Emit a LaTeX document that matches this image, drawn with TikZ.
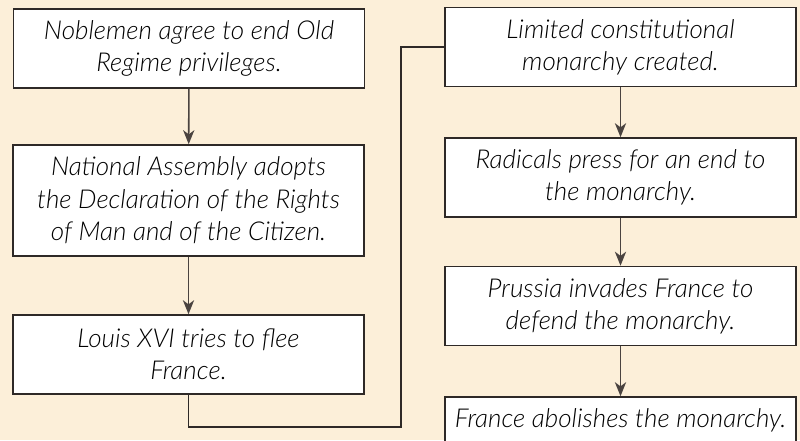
\documentclass[tikz,border=0pt]{standalone}
\usepackage{fontspec}
\setmainfont{Lato}[ItalicFont={Lato Light Italic}]
\usepackage{tikz}
\usetikzlibrary{arrows.meta}
\definecolor{parchment}{HTML}{FCEFD9}
\definecolor{inkline}{HTML}{2E2927}
\definecolor{inkarrow}{HTML}{4A4340}
\tikzset{
  evbox/.style={rectangle, draw=inkline, line width=1.1pt, fill=white,
                minimum width=8.775cm, minimum height=1.975cm,
                align=center, inner sep=2pt,
                font=\fontsize{18.5}{23}\selectfont\itshape},
  evarrow/.style={-{Stealth[length=10pt, width=8pt, inset=3pt]},
                  line width=1.1pt, draw=inkarrow},
  evlink/.style={line width=1.1pt, draw=inkline},
}

\begin{document}
\begin{tikzpicture}[
      tallbox/.style={evbox, minimum height=2.775cm},
      lastbox/.style={evbox, minimum height=1.15cm},
      x=0.025cm, y=-0.025cm,
    ]
    \fill[parchment] (0,0) rectangle (800,440);
    \useasboundingbox (0,0) rectangle (800,440);
    \clip (0,0) rectangle (800,440);

    % left column
    \node[evbox]   (E1) at (189, 48.5)    {Noblemen agree to end Old\\Regime privileges.};
    \node[tallbox] (E2) at (188.5, 200.5) {National Assembly adopts\\the Declaration of the Rights\\of Man and of the Citizen.};
    \node[evbox]   (E3) at (188.5, 354.5) {Louis XVI tries to flee\\France.};
    % right column
    \node[evbox]   (E4) at (620.5, 47)    {Limited constitutional\\monarchy created.};
    \node[evbox]   (E5) at (620.5, 177.5) {Radicals press for an end to\\the monarchy.};
    \node[evbox]   (E6) at (620.5, 306)   {Prussia invades France to\\defend the monarchy.};
    \node[lastbox] (E7) at (620.5, 420)   {France abolishes the monarchy.};

    \coordinate (turn) at (401, 427);

    \draw[evarrow] (E1) -- (E2);
    \draw[evarrow] (E2) -- (E3);
    \draw[evlink]  (E3.south) |- (turn) |- (E4.west);
    \draw[evarrow] (E4) -- (E5);
    \draw[evarrow] (E5) -- (E6);
    \draw[evarrow] (E6) -- (E7);
  \end{tikzpicture}
\end{document}
